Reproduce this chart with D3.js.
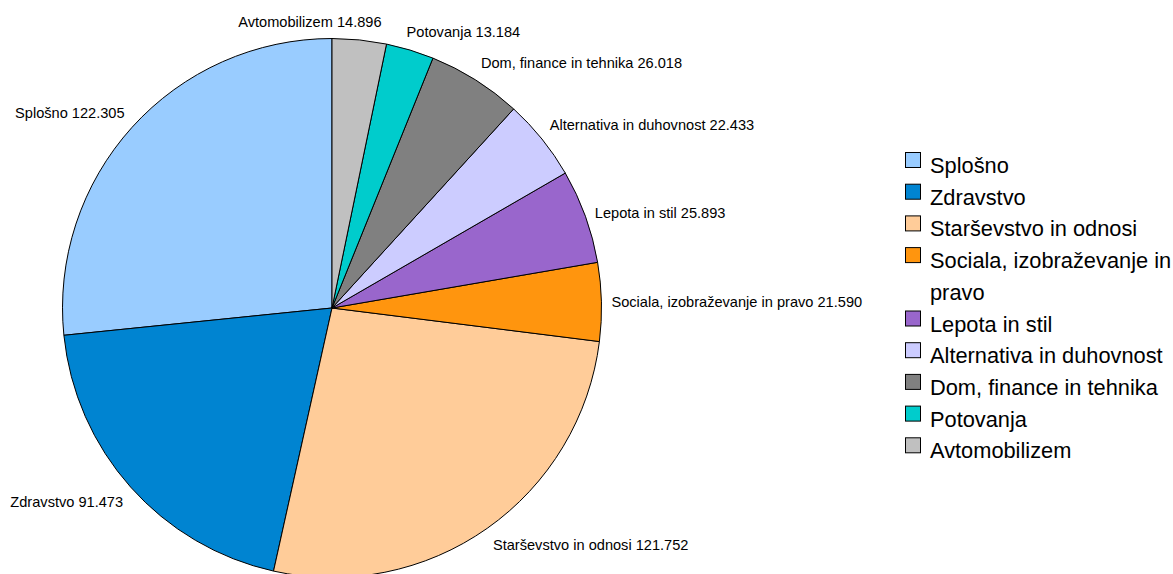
<!DOCTYPE html>
<html>
<head>
<meta charset="utf-8">
<script src="https://cdn.jsdelivr.net/npm/d3@7/dist/d3.min.js"></script>
<style>
html,body{margin:0;padding:0;background:#fff;}
svg{display:block;font-family:"Liberation Sans",Arial,sans-serif;}
</style>
</head>
<body>
<svg id="chart" width="1173" height="574"></svg>
<script>
const categories = ["Splošno","Zdravstvo","Starševstvo in odnosi","Sociala, izobraževanje in pravo","Lepota in stil","Alternativa in duhovnost","Dom, finance in tehnika","Potovanja","Avtomobilizem"];
const values = [122.305, 91.473, 121.752, 21.590, 25.893, 22.433, 26.018, 13.184, 14.896];
const colors = ["#99ccff","#0084d1","#ffcc99","#ff950e","#9966cc","#ccccff","#808080","#00cccc","#c0c0c0"];

const W = 1173, H = 574;
const cx = 332, cy = 308, r = 269.5;
const svg = d3.select("#chart");

const data = categories.map((c,i)=>({name:c, value:values[i], color:colors[i]}));
// counter-clockwise from 12 o'clock
const pie = d3.pie().value(d=>d.value).sort(null).startAngle(0).endAngle(-2*Math.PI);
const arcs = pie(data);
const arc = d3.arc().innerRadius(0).outerRadius(r);

const g = svg.append("g").attr("transform",`translate(${cx},${cy})`);
g.selectAll("path").data(arcs).enter().append("path")
  .attr("d",arc).attr("fill",d=>d.data.color)
  .attr("stroke","#000").attr("stroke-width",1).attr("stroke-linejoin","round");

// labels
const fmt = d3.format(".3f");
const R = r + 10;
const labelG = svg.append("g");
const boxes = [];
arcs.forEach(a=>{
  let mid = (a.startAngle + a.endAngle)/2;
  let deg = ((mid*180/Math.PI)%360+360)%360;
  const px = cx + R*Math.sin(mid), py = cy - R*Math.cos(mid);
  const t = labelG.append("text").attr("font-size",14.6).attr("fill","#000")
    .text(a.data.name + " " + fmt(a.data.value));
  const bb = t.node().getBBox();
  const sector = Math.floor(((deg+22.5)%360)/45);
  let bx, by;
  if (sector===0||sector===4) bx = px - bb.width/2;
  else if (sector>=1 && sector<=3) bx = px;
  else bx = px - bb.width;
  if (sector===0||sector===1||sector===7) by = py - bb.height;
  else if (sector===2||sector===6) by = py - bb.height/2;
  else by = py;
  boxes.push({t, bb, x:bx, y:by, w:bb.width, h:bb.height, deg});
});
const gap = 25;
for (let iter=0; iter<5; iter++){
  for (let i=0;i<boxes.length;i++) for (let j=i+1;j<boxes.length;j++){
    const A=boxes[i], B=boxes[j];
    const ovY = Math.min(A.y+A.h,B.y+B.h) - Math.max(A.y,B.y);
    const ovX = Math.min(A.x+A.w,B.x+B.w) - Math.max(A.x,B.x);
    if (ovY>0 && ovX>-gap+0.5){
      const L = (A.x+A.w/2 < B.x+B.w/2) ? A : B;
      const Rb = L===A ? B : A;
      const need = (L.x+L.w+gap) - Rb.x;
      L.x -= need/2; Rb.x += need/2;
    }
  }
}
boxes.forEach(b=>{
  b.t.attr("x", b.x - b.bb.x).attr("y", b.y - b.bb.y);
});

// legend
const lx = 905, ly0 = 173, lh = 31.7, maxW = 255;
const leg = svg.append("g");
let line = 0;
data.forEach(d=>{
  const base = ly0 + line*lh;
  leg.append("rect").attr("x",lx+0.5).attr("y",base-20.5).attr("width",15).attr("height",15)
    .attr("fill",d.color).attr("stroke","#000").attr("stroke-width",1);
  const t = leg.append("text").attr("x",lx+25).attr("y",base).attr("font-size",21.8).attr("fill","#000");
  const words = d.name.split(" ");
  let cur = [];
  let ts = t.append("tspan").attr("x",lx+25).attr("y",base);
  words.forEach(w=>{
    cur.push(w);
    ts.text(cur.join(" "));
    if (ts.node().getComputedTextLength() > maxW && cur.length>1){
      cur.pop(); ts.text(cur.join(" "));
      cur=[w]; line++;
      ts = t.append("tspan").attr("x",lx+25).attr("y",ly0+line*lh).text(w);
    }
  });
  line++;
});
</script>
</body>
</html>
